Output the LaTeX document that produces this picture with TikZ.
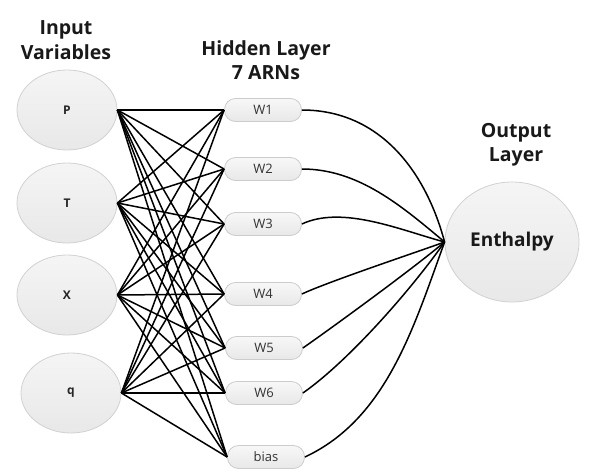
\documentclass[tikz,border=0pt]{standalone}
\usepackage{fontspec}
\setmainfont{Open Sans}
\usetikzlibrary{shapes.geometric}
\begin{document}
\begin{tikzpicture}[x=1pt,y=-1pt,
  inellipse/.style={ellipse,draw=black!18,line width=0.8pt,top color=black!4,bottom color=black!9,
    minimum width=100pt,minimum height=80pt,inner sep=0pt,font=\bfseries\fontsize{12}{14}\selectfont,text=black!85},
  hid/.style={rounded corners=11pt,draw=black!20,line width=0.8pt,top color=black!3,bottom color=black!9,
    minimum width=77pt,minimum height=23pt,inner sep=0pt,font=\fontsize{13}{14}\selectfont,text=black!80},
  title/.style={font=\bfseries\fontsize{19.5}{24.5}\selectfont,align=center,text=black!90},
  conn/.style={line width=1.5pt,black},
  outc/.style={line width=1.5pt,black}]
\useasboundingbox (0,0) rectangle (593,468);
% titles
\node[title] (tin) at (66,40) {Input\\Variables};
\node[title] (thid) at (266,60) {Hidden Layer\\7 ARNs};
\node[title] (tout) at (516,145) {Output\\Layer};
% input nodes
\node[inellipse] (P) at (67,110) {P};
\node[inellipse] (T) at (67,203) {T};
\node[inellipse] (X) at (67,295) {X};
\node[inellipse] (q) at (71,393) {q};
% hidden nodes
\node[hid] (w1) at (263,110) {W1};
\node[hid] (w2) at (263,169) {W2};
\node[hid] (w3) at (263,224) {W3};
\node[hid] (w4) at (263,294) {W4};
\node[hid] (w5) at (264,348) {W5};
\node[hid] (w6) at (264,393) {W6};
\node[hid] (bias) at (266,457) {bias};
% output node
\node[ellipse,draw=black!18,line width=0.8pt,top color=black!4,bottom color=black!9,
  minimum width=134pt,minimum height=120pt,inner sep=0pt,font=\bfseries\fontsize{19}{20}\selectfont,text=black!90] (out) at (512,242) {Enthalpy};
% input-hidden connections
\foreach \i in {P,T,X,q}{
  \foreach \h in {w1,w2,w3,w4,w5,w6,bias}{
    \draw[conn] (\i.east) -- (\h.west);
  }
}
% hidden-output connections
\draw[outc] (w1.east) to[out=0,in=105,looseness=1.0] (out.west);
\draw[outc] (w2.east) to[out=0,in=140,looseness=0.9] (out.west);
\draw[outc] (w3.east) to[out=25,in=165,looseness=0.8] (out.west);
\draw[outc] (w4.east) to[out=25,in=200,looseness=0.5] (out.west);
\draw[outc] (w5.east) to[out=35,in=220,looseness=0.6] (out.west);
\draw[outc] (w6.east) to[out=35,in=235,looseness=0.7] (out.west);
\draw[outc] (bias.east) to[out=25,in=250,looseness=0.9] (out.west);
\end{tikzpicture}
\end{document}
